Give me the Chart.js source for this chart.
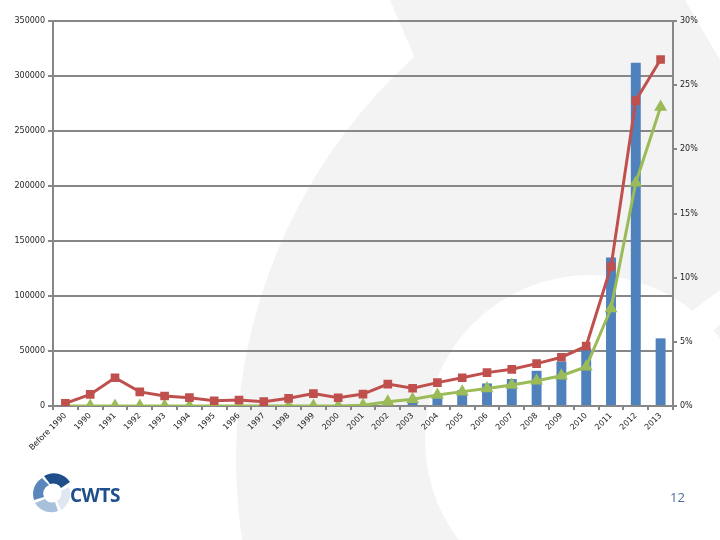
<!DOCTYPE html>
<html>
<head>
<meta charset="utf-8">
<script src="https://cdn.jsdelivr.net/npm/chart.js@4/dist/chart.umd.min.js"></script>
<style>
  html, body { margin: 0; padding: 0; background: #fff; }
  #wrap { position: relative; width: 720px; height: 540px; overflow: hidden; }
  #chart { position: absolute; left: 0; top: 0; }
  #logo { position: absolute; left: 30px; top: 470px; }
  #logo-text { position: absolute; left: 70px; top: 482px; font: bold 19px "Open Sans", sans-serif; color: #1f4f8a; letter-spacing: -0.5px; }
  #page-num { position: absolute; left: 670px; top: 488px; font: 13px "Open Sans", sans-serif; color: #4a6d9a; }
</style>
</head>
<body>
<div id="wrap">
  <canvas id="chart" width="720" height="540"></canvas>
  <svg id="logo" width="44" height="44" viewBox="0 0 44 44">
    <path d="M14,6 A19,19 0 0 1 40,12 L31,18 A9,9 0 0 0 20,14 Z" fill="#1f4f8a"/>
    <path d="M12,8 L19,15 A9,9 0 0 0 14,27 L4,30 A19,19 0 0 1 12,8 Z" fill="#5a86bd"/>
    <path d="M5,33 L15,29 A9,9 0 0 0 25,32 L28,41 A19,19 0 0 1 5,33 Z" fill="#a9c0dd"/>
    <path d="M27,31 A9,9 0 0 0 31,21 L39,17 A19,19 0 0 1 31,40 Z" fill="#dfe7f1"/>
  </svg>
  <div id="logo-text">CWTS</div>
  <div id="page-num">12</div>
</div>
<script>
// Categories and series
const years = ['Before 1990', '1990', '1991', '1992', '1993', '1994', '1995', '1996', '1997', '1998',
  '1999', '2000', '2001', '2002', '2003', '2004', '2005', '2006', '2007', '2008',
  '2009', '2010', '2011', '2012', '2013'];

// bars, left axis
const counts = [0, 200, 300, 200, 200, 200, 200, 200, 200, 300,
  300, 300, 500, 1500, 4000, 9500, 14500, 20500, 24500, 32000,
  40500, 52500, 135000, 312000, 61500];

// red line, right axis (%)
const shareRed = [0.2, 0.9, 2.2, 1.1, 0.78, 0.65, 0.41, 0.47, 0.34, 0.6,
  0.97, 0.64, 0.93, 1.71, 1.38, 1.82, 2.2, 2.6, 2.86, 3.3,
  3.8, 4.67, 10.85, 23.8, 27.0];

// green line, right axis (%)
const shareGreen = [0, 0, 0, 0, 0, 0, 0, 0, 0, 0,
  0, 0, 0.05, 0.33, 0.52, 0.86, 1.12, 1.37, 1.64, 1.97,
  2.36, 3.06, 7.6, 17.4, 23.3];

const leftTicks = [0, 50000, 100000, 150000, 200000, 250000, 300000, 350000];
const rightTicks = [0, 5, 10, 15, 20, 25, 30];

const gridColor = '#878787';
const tickFont = { family: 'DejaVu Sans', size: 8 };

// faint watermark shapes behind the slide
const backdrop = {
  id: 'backdrop',
  beforeDraw(chart) {
    const ctx = chart.ctx;
    ctx.save();
    ctx.fillStyle = '#ffffff';
    ctx.fillRect(0, 0, 720, 540);
    ctx.fillStyle = '#f3f3f3';
    ctx.beginPath();
    ctx.arc(779, 459, 543, 0, Math.PI * 2);
    ctx.fill();
    ctx.beginPath();
    ctx.moveTo(390, 0); ctx.lineTo(720, 0); ctx.lineTo(720, 300); ctx.lineTo(515, 290);
    ctx.closePath();
    ctx.fill();
    ctx.fillStyle = '#ffffff';
    ctx.beginPath();
    ctx.arc(590, 440, 165, 0, Math.PI * 2);
    ctx.fill();
    ctx.beginPath();
    ctx.moveTo(685, 0); ctx.lineTo(720, 0); ctx.lineTo(720, 60);
    ctx.closePath();
    ctx.fill();
    ctx.beginPath();
    ctx.moveTo(640, 350); ctx.lineTo(720, 290); ctx.lineTo(720, 325); ctx.lineTo(655, 375);
    ctx.closePath();
    ctx.fill();
    ctx.restore();
  }
};

new Chart(document.getElementById('chart'), {
  type: 'bar',
  data: {
    labels: years,
    datasets: [
      {
        type: 'line',
        data: shareRed,
        yAxisID: 'y2',
        borderColor: '#c0504d',
        backgroundColor: '#c0504d',
        borderWidth: 3,
        pointStyle: 'rect',
        pointRadius: 4,
        tension: 0,
        order: 0
      },
      {
        type: 'line',
        data: shareGreen,
        yAxisID: 'y2',
        borderColor: '#9bbb59',
        backgroundColor: '#9bbb59',
        borderWidth: 3,
        pointStyle: 'triangle',
        pointRadius: 4.5,
        tension: 0,
        order: 1
      },
      {
        data: counts,
        yAxisID: 'y',
        backgroundColor: '#4f81bd',
        barPercentage: 0.4,
        categoryPercentage: 1,
        order: 2
      }
    ]
  },
  options: {
    responsive: false,
    animation: false,
    layout: { padding: { top: 21, left: 0, right: 0, bottom: 0 } },
    plugins: {
      legend: { display: false },
      tooltip: { enabled: false }
    },
    scales: {
      x: {
        grid: { drawOnChartArea: false, color: gridColor, lineWidth: 2, tickLength: 4 },
        border: { color: gridColor, width: 2 },
        ticks: { font: tickFont, color: '#222', minRotation: 45, maxRotation: 45, autoSkip: false, padding: 1 },
        afterFit(scale) { scale.height = 134; }
      },
      y: {
        position: 'left',
        min: 0,
        max: 350000,
        afterBuildTicks(scale) { scale.ticks = leftTicks.map(v => ({ value: v })); },
        grid: { color: gridColor, lineWidth: 2, tickLength: 5 },
        border: { color: gridColor, width: 2 },
        ticks: { font: tickFont, color: '#222', padding: 3, callback: v => String(v) },
        afterFit(scale) { scale.width = 53; }
      },
      y2: {
        position: 'right',
        min: 0,
        max: 30,
        afterBuildTicks(scale) { scale.ticks = rightTicks.map(v => ({ value: v })); },
        grid: { drawOnChartArea: false, color: gridColor, lineWidth: 2, tickLength: 4 },
        border: { color: gridColor, width: 2 },
        ticks: { font: tickFont, color: '#222', padding: 3, callback: v => v + '%' },
        afterFit(scale) { scale.width = 47; }
      }
    }
  },
  plugins: [backdrop]
});
</script>
</body>
</html>
